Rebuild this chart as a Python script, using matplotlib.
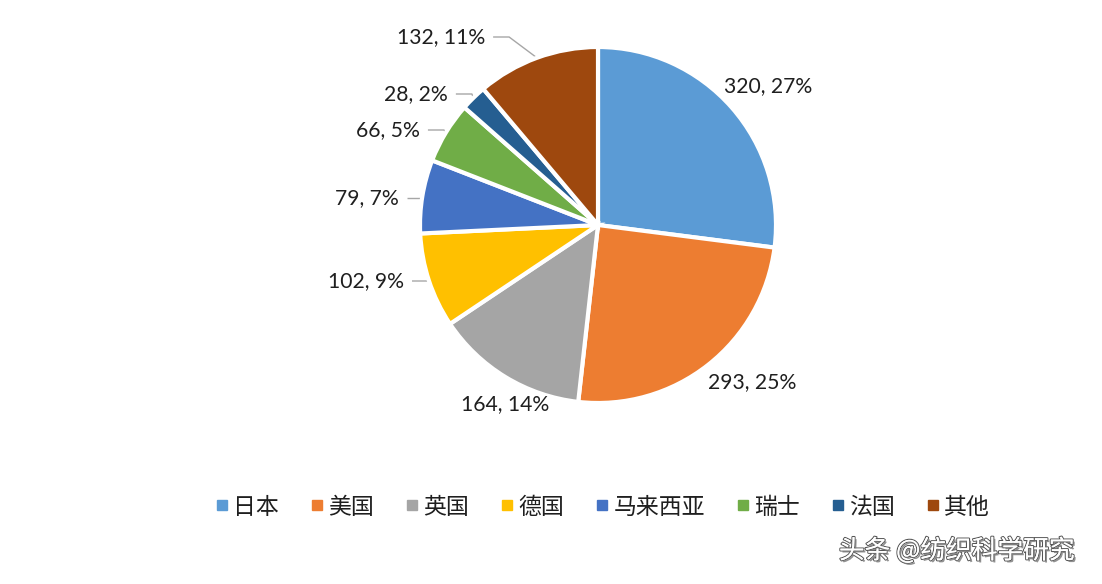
import numpy as np
import matplotlib
matplotlib.use("Agg")
import matplotlib.pyplot as plt
from matplotlib.lines import Line2D
import matplotlib.patheffects as pe

categories = ["日本", "美国", "英国", "德国", "马来西亚", "瑞士", "法国", "其他"]
values = [320, 293, 164, 102, 79, 66, 28, 132]
percents = ["27%", "25%", "14%", "9%", "7%", "5%", "2%", "11%"]
colors = ["#5B9BD5", "#ED7D31", "#A5A5A5", "#FFC000", "#4472C4", "#70AD47", "#255E91", "#9E480E"]

# layout: label centres in pixel coords (from top-left) and whether a leader line is drawn
label_pos = [(768, 86), (752, 382), (505, 404), (366, 281), (367, 198), (388, 130), (416, 94), (441, 37)]
leader = [False, False, False, True, True, True, True, True]

W, H = 1102, 584
fig = plt.figure(figsize=(W / 100, H / 100), dpi=100)
fig.patch.set_facecolor("white")
ax = fig.add_axes([0, 0, 1, 1])

cx, cy, R = 598, H - 225, 178
wedges, _ = ax.pie(values, colors=colors, startangle=90, counterclock=False,
                   center=(cx, cy), radius=R,
                   wedgeprops=dict(edgecolor="white", linewidth=3))
ax.set_xlim(0, W)
ax.set_ylim(0, H)
ax.set_aspect("auto")
ax.axis("off")

texts = []
for v, p, (lx, ly) in zip(values, percents, label_pos):
    t = ax.text(lx, H - ly, f"{v}, {p}", ha="center", va="center",
                fontsize=15.2, family=["Lato", "DejaVu Sans"], color="#1F1F1F")
    texts.append(t)

fig.canvas.draw()
renderer = fig.canvas.get_renderer()
inv = ax.transData.inverted()
for w, t, has in zip(wedges, texts, leader):
    if not has:
        continue
    mid = np.deg2rad((w.theta1 + w.theta2) / 2)
    px = w.center[0] + w.r * np.cos(mid)
    py = w.center[1] + w.r * np.sin(mid)
    bb = t.get_window_extent(renderer)
    (x1, _), = inv.transform([(bb.x1, bb.y0)])
    ty = t.get_position()[1]
    sx = x1 + 8
    kx = min(px, sx + 16)
    ax.plot([sx, kx, px], [ty, ty, py], color="#A6A6A6", lw=1, solid_capstyle="butt", zorder=0.5)

handles = [Line2D([], [], marker="s", linestyle="", markersize=7.5,
                  markerfacecolor=c, markeredgecolor=c) for c in colors]
leg = fig.legend(handles, categories, loc="center", bbox_to_anchor=(603 / W, 1 - 507 / H),
                 ncol=8, frameon=False, handlelength=0.5, handletextpad=0.25,
                 columnspacing=1.4, prop={"family": ["Noto Sans CJK SC", "DejaVu Sans"], "size": 16.5})
for txt in leg.get_texts():
    txt.set_color("#1F1F1F")

fig.text(957 / W, 1 - 551 / H, "头条 @纺织科学研究", ha="center", va="center",
         fontsize=18.5, family=["Noto Sans CJK SC", "DejaVu Sans"], color="white",
         path_effects=[pe.withStroke(linewidth=1.6, foreground="#555555"),
                       pe.SimplePatchShadow(offset=(1.5, -1.5), shadow_rgbFace="#777777", alpha=0.8),
                       pe.Normal()])

fig.savefig("out.png", dpi=100, facecolor="white")
